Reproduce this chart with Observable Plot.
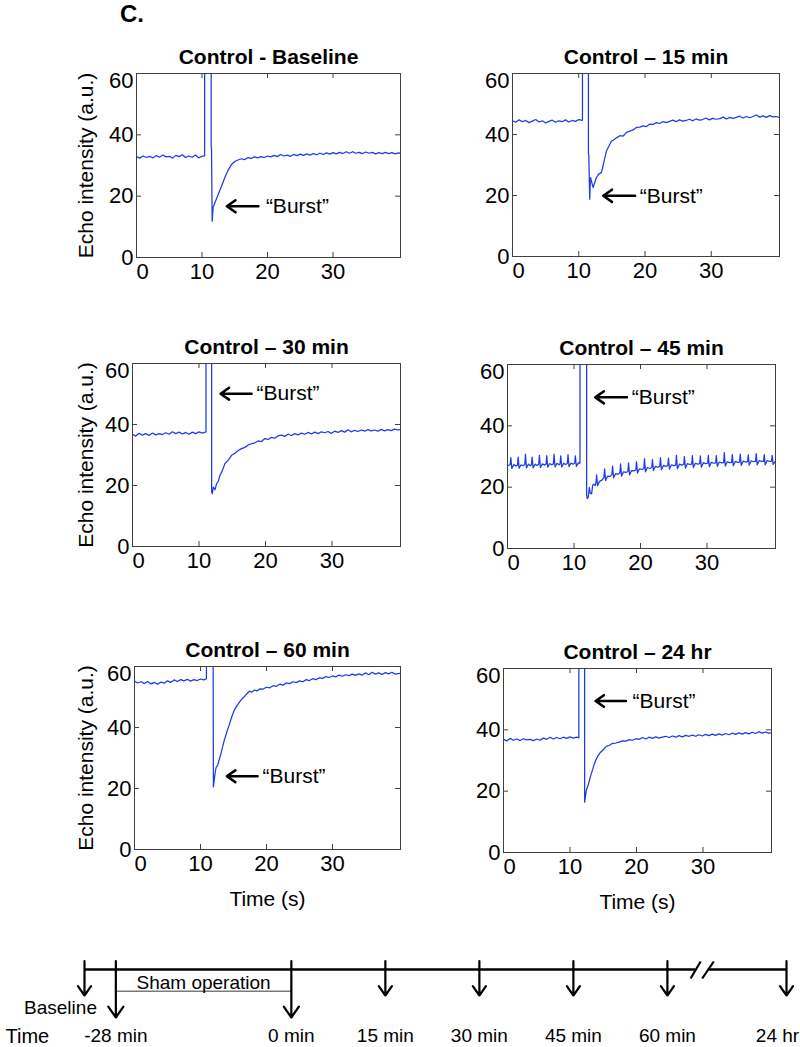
<!DOCTYPE html>
<html><head><meta charset="utf-8">
<script src="https://cdn.jsdelivr.net/npm/d3@7"></script>
<script src="https://cdn.jsdelivr.net/npm/@observablehq/plot@0.6"></script>
<style>
body{margin:0;background:#fff;}
#fig{position:relative;width:800px;height:1047px;overflow:hidden;background:#fff;font-family:'Liberation Sans',Arial,Helvetica,sans-serif;}
#fig svg{position:absolute;max-width:none;}
#panelLetter{position:absolute;left:120px;top:2px;font-size:24px;font-weight:bold;line-height:1;color:#000;}
</style></head><body><div id="fig"><div id="panelLetter">C.</div></div>
<script>
// ---------- data ----------
const titles = ["Control - Baseline", "Control \u2013 15 min", "Control \u2013 30 min", "Control \u2013 45 min", "Control \u2013 60 min", "Control \u2013 24 hr"];
const xTicks = [0, 10, 20, 30];
const yTicks = [0, 20, 40, 60];

const seriesBaseline = [[0,32.9],[0.5,32.4],[1,33.1],[1.5,32.6],[2,33.0],[2.5,32.5],[3,33.2],[3.5,32.7],[4,33.4],[4.5,32.8],[5,33.0],[5.5,32.4],[6,33.3],[6.5,32.9],[7,33.5],[7.5,32.6],[8,33.1],[8.5,32.7],[9,33.4],[9.5,32.5],[10,33.0],[10.4,33.2],
[10.4,80],[11.4,80],[11.4,35.8],[11.45,35.7],[11.55,11.8],[11.7,16.4],[12,18.0],[12.5,20.7],[13,23.4],[13.5,26.2],[14,28.5],[14.5,30.3],[15,31.3],[15.5,31.8],[16,32.2],[16.5,31.9],[17,32.6],[17.5,32.3],[18,32.8],[18.5,32.5],[19,32.9],[19.5,32.6],[20,33.1],[20.5,32.8],[21,33.3],[21.5,32.9],[22,33.6],[22.5,33.1],[23,33.4],[23.5,33.0],[24,33.6],[24.5,33.2],[25,33.7],[25.5,33.3],[26,33.8],[26.5,33.4],[27,33.9],[27.5,33.5],[28,34.0],[28.5,33.6],[29,34.1],[29.5,33.7],[30,34.2],[30.5,33.8],[31,34.3],[31.5,33.9],[32,34.5],[32.5,34.0],[33,34.5],[33.5,34.0],[34,34.3],[34.5,33.9],[35,34.4],[35.5,34.0],[36,34.3],[36.5,33.8],[37,34.2],[37.5,33.9],[38,34.3],[38.5,33.9],[39,34.2],[39.5,33.8],[40,34.1],[40.3,34.0]];

const series15 = [[0,44.5],[0.5,44.0],[1,44.8],[1.5,44.2],[2,44.6],[2.5,43.9],[3,44.4],[3.5,44.9],[4,44.1],[4.5,44.5],[5,43.8],[5.5,44.3],[6,44.7],[6.5,44.0],[7,44.5],[7.5,44.2],[8,44.8],[8.5,44.1],[9,44.6],[9.5,44.3],[10,44.9],[10.56,44.6],
[10.56,80],[11.46,80],[11.46,33.6],[11.52,33.4],[11.65,18.8],[11.77,25.9],[12.17,22.6],[12.67,25.9],[13.0,27.0],[13.43,27.5],[13.8,31.0],[14.18,34.6],[14.6,36.4],[14.94,37.8],[15.3,38.3],[15.69,38.9],[16.2,39.6],[16.7,39.5],[17.2,40.7],[17.7,41.1],[18.2,41.5],[18.7,42.3],[19.2,42.4],[19.7,42.8],[20.2,42.6],[20.7,43.4],[21.2,43.3],[21.7,43.9],[22.2,43.6],[22.7,44.2],[23.2,43.9],[23.7,44.3],[24.2,44.7],[24.7,44.2],[25.2,44.8],[25.7,44.4],[26.2,44.6],[26.7,45.0],[27.2,44.5],[27.7,45.1],[28.2,44.7],[28.7,44.9],[29.2,45.4],[29.7,44.8],[30.2,45.3],[30.7,45.0],[31.3,45.2],[31.8,45.7],[32.3,45.1],[32.8,45.6],[33.3,45.3],[33.8,45.6],[34.3,46.0],[34.8,45.4],[35.3,45.9],[35.8,45.5],[36.3,45.9],[36.8,46.4],[37.3,45.7],[37.8,46.1],[38.3,45.6],[38.8,46.2],[39.3,45.8],[39.8,45.9],[40.3,45.6]];

const series30 = [[0,36.8],[0.5,36.2],[1,37.1],[1.5,36.5],[2,37.0],[2.5,36.4],[3,37.2],[3.5,36.6],[4,37.0],[4.5,36.7],[5,37.3],[5.5,36.8],[6,37.6],[6.5,37.0],[7,37.5],[7.5,36.9],[8,37.4],[8.5,36.8],[9,37.5],[9.5,37.0],[10,37.6],[10.5,37.2],[11.05,37.6],
[11.05,80],[11.9,80],[11.9,18.0],[12.0,17.3],[12.15,19.5],[12.4,18.6],[12.65,20.6],[12.9,21.4],[13.15,23.3],[13.5,24.8],[13.9,27.2],[14.4,28.3],[14.9,29.9],[15.4,30.6],[15.9,31.5],[16.4,32.1],[16.9,32.5],[17.4,33.3],[17.9,33.7],[18.4,34.0],[18.9,34.6],[19.4,34.4],[19.9,35.4],[20.4,35.1],[20.9,35.8],[21.4,35.5],[21.9,36.3],[22.4,36.5],[22.9,36.1],[23.4,36.8],[23.9,36.4],[24.4,37.0],[24.9,36.6],[25.4,37.2],[25.9,36.8],[26.4,37.4],[26.9,36.9],[27.4,37.5],[27.9,37.0],[28.4,37.6],[28.9,37.3],[29.4,37.7],[29.9,37.1],[30.4,37.8],[30.9,37.4],[31.4,38.0],[31.9,37.5],[32.4,38.3],[32.9,37.6],[33.4,38.1],[33.9,37.7],[34.4,38.2],[34.9,37.8],[35.4,38.3],[35.9,37.9],[36.4,38.2],[36.9,37.8],[37.4,38.4],[37.9,37.9],[38.4,38.3],[38.9,38.0],[39.4,38.5],[39.9,38.2],[40.3,38.3]];

const series45 = [[0,27.0],[0.4,27.3],[0.5,29.6],[0.65,26.1],[0.95,27.4],[1.25,26.9],[1.5,27.2],[1.6,29.8],[1.75,26.2],[2.05,27.3],[2.35,27.0],[2.6,27.4],[2.7,30.8],[2.85,26.3],[3.15,27.5],[3.45,27.0],[3.6,27.3],[3.7,29.8],[3.85,26.3],[4.15,27.5],[4.45,27.1],[4.7,27.5],[4.8,30.4],[4.95,26.4],[5.25,27.6],[5.55,27.2],[5.8,27.5],[5.9,30.3],[6.05,26.5],[6.35,27.7],[6.65,27.3],[6.9,27.6],[7.0,30.8],[7.15,26.6],[7.45,27.8],[7.75,27.3],[7.9,27.6],[8.0,30.2],[8.15,26.6],[8.45,27.8],[8.75,27.4],[9.0,27.7],[9.1,30.6],[9.25,26.7],[9.55,27.9],[9.85,27.5],[10.1,27.8],[10.2,30.2],[10.35,26.8],[10.65,27.9],[10.9,27.8],
[10.9,80],[11.9,80],[11.9,17.5],[12.0,16.3],[12.15,16.7],[12.3,19.9],[12.45,18.0],[12.65,17.8],[12.8,20.6],[12.95,21.0],[13.2,20.5],[13.3,21.4],[13.4,24.0],[13.55,20.5],[13.85,21.9],[14.2,22.3],
[14.5,23.2],[14.6,26.0],[14.75,22.2],[15.05,23.6],[15.4,23.5],[15.7,24.1],[15.8,26.9],[15.95,23.0],[16.25,24.4],[16.6,24.2],[16.9,24.6],[17.0,27.6],[17.15,23.6],[17.45,25.0],[17.8,24.8],[18.1,25.1],[18.2,27.9],[18.35,24.0],[18.65,25.4],[19.0,25.3],[19.3,25.6],[19.4,28.3],[19.55,24.6],[19.85,26.0],[20.2,25.8],[20.5,26.0],[20.6,29.3],[20.75,25.0],[21.05,26.4],[21.4,26.1],[21.7,26.4],[21.8,29.0],[21.95,25.4],[22.25,26.8],[22.6,26.5],[22.9,26.8],[23.0,29.6],[23.15,25.7],[23.45,27.1],[23.8,26.8],[24.1,27.0],[24.2,29.5],[24.35,25.9],[24.65,27.3],[25.0,27.0],[25.3,27.2],[25.4,30.4],[25.55,26.0],[25.85,27.5],[26.2,27.2],[26.5,27.4],[26.6,30.0],[26.75,26.2],[27.05,27.7],[27.4,27.4],[27.7,27.5],[27.8,30.3],[27.95,26.4],[28.25,27.8],[28.6,27.5],[28.9,27.7],[29.0,30.2],[29.15,26.5],[29.45,28.0],[29.8,27.7],[30.1,27.8],[30.2,30.4],[30.35,26.7],[30.65,28.1],[31.0,27.8],[31.3,27.9],[31.4,30.3],[31.55,26.8],[31.85,28.2],[32.2,27.9],[32.5,28.0],[32.6,31.3],[32.75,26.9],[33.05,28.3],[33.4,28.0],[33.7,28.1],[33.8,30.6],[33.95,27.0],[34.25,28.4],[34.6,28.1],[34.9,28.2],[35.0,30.8],[35.15,27.1],[35.45,28.5],[35.8,28.2],[36.1,28.3],[36.2,30.5],[36.35,27.2],[36.65,28.6],[37.0,28.3],[37.3,28.4],[37.4,30.9],[37.55,27.3],[37.85,28.7],[38.2,28.4],[38.5,28.4],[38.6,30.6],[38.75,27.3],[39.05,28.7],[39.4,28.4],[39.7,28.5],[39.8,30.4],[39.95,27.4],[40.3,28.6]];

const series60 = [[0,55.2],[0.5,54.6],[1,55.0],[1.5,54.4],[2,55.1],[2.5,54.3],[3,54.8],[3.5,54.2],[4,54.9],[4.5,54.5],[5,55.3],[5.5,54.8],[6,55.6],[6.5,55.1],[7,55.7],[7.5,55.3],[8,55.8],[8.5,55.2],[9,55.7],[9.5,55.4],[10,55.9],[10.5,55.6],[10.9,56.0],
[10.9,80],[11.9,80],[11.95,20.5],[12.2,24.9],[12.35,26.8],[12.6,27.6],[12.85,29.6],[13.1,31.4],[13.35,33.7],[13.6,35.8],[14.0,38.6],[14.4,41.2],[14.75,43.6],[15.1,45.6],[15.5,47.1],[15.9,48.3],[16.25,49.3],[16.6,50.0],[17.0,51.0],[17.4,51.9],[17.8,51.6],[18.2,52.3],[18.6,52.0],[19.0,52.7],[19.5,52.6],[20.0,53.2],[20.5,53.0],[21.0,53.7],[21.5,53.5],[22.0,54.2],[22.5,53.9],[23.0,54.6],[23.5,54.4],[24.0,55.0],[24.5,54.7],[25.0,55.3],[25.5,55.0],[26.0,55.7],[26.5,55.4],[27.0,56.0],[27.5,55.7],[28.0,56.3],[28.5,56.1],[29.0,56.7],[29.5,56.4],[30.0,56.9],[30.5,56.6],[31.0,57.2],[31.5,56.8],[32.0,57.3],[32.5,57.0],[33.0,57.5],[33.5,57.1],[34.0,57.6],[34.5,57.2],[35.0,57.9],[35.5,57.3],[36.0,58.1],[36.5,57.5],[37.0,57.9],[37.5,57.4],[38.0,58.0],[38.5,57.6],[39.0,58.1],[39.5,57.5],[40.3,57.8]];

const series24h = [[0,36.9],[0.5,36.4],[1,37.2],[1.5,36.6],[2,37.0],[2.5,36.5],[3,37.1],[3.5,36.7],[4,36.9],[4.5,36.5],[5,37.0],[5.5,36.6],[6,37.3],[6.5,36.9],[7,37.6],[7.5,37.0],[8,37.5],[8.5,37.1],[9,37.6],[9.5,37.2],[10,37.7],[10.5,37.3],[11.0,37.6],[11.33,37.4],
[11.33,80],[12.2,80],[12.2,16.4],[12.45,20.2],[12.65,21.5],[12.85,22.9],[13.1,25.0],[13.35,26.7],[13.6,28.5],[13.85,30.0],[14.2,31.5],[14.6,32.7],[15.0,33.5],[15.45,34.6],[15.9,34.9],[16.4,35.6],[16.9,35.7],[17.4,36.0],[17.9,36.4],[18.4,36.3],[18.9,36.8],[19.4,36.6],[19.9,37.1],[20.4,36.9],[20.9,37.5],[21.4,37.0],[21.9,37.6],[22.4,37.2],[22.9,37.7],[23.4,37.3],[23.9,37.6],[24.4,37.9],[24.9,37.5],[25.4,38.0],[25.9,37.6],[26.4,38.1],[26.9,37.7],[27.4,38.2],[27.9,37.9],[28.4,38.3],[28.9,37.9],[29.4,38.4],[29.9,38.0],[30.4,38.5],[30.9,38.1],[31.4,38.6],[31.9,38.2],[32.4,38.7],[32.9,38.3],[33.4,38.8],[33.9,38.4],[34.4,38.9],[34.9,38.5],[35.4,39.0],[35.9,38.6],[36.4,39.1],[36.9,38.7],[37.4,39.2],[37.9,38.8],[38.4,39.4],[38.9,38.9],[39.4,39.3],[39.9,38.9],[40.3,39.0]];

const allSeries = [seriesBaseline, series15, series30, series45, series60, series24h];

// "Burst" annotation (data units)
const burstTail = [18.6, 18.5, 17.9, 17.95, 18.65, 18.4];
const burstHead = [13.8, 13.7, 13.25, 13.2, 14.0, 13.85];
const burstLevel = [16.7, 19.9, 50.1, 49.3, 24.0, 49.4];
const burstTextX = [19.75, 19.2, 18.65, 18.7, 19.4, 19.4];

// timeline (schematic minutes; 24 hr drawn after the axis break)
const events = ["Baseline", "-28 min", "0 min", "15 min", "30 min", "45 min", "60 min", "24 hr"];
const eventMinute = [-33, -28, 0, 15, 30, 45, 60, 79];
const arrowLong = [false, true, true, false, false, false, false, false];

// ---------- layout ----------
const frames = [
  {left:136, top:73, right:400, bottom:257},
  {left:512, top:73, right:779, bottom:256},
  {left:132, top:363, right:400, bottom:546},
  {left:507, top:364, right:775, bottom:548},
  {left:134, top:666, right:400, bottom:849},
  {left:503, top:668, right:771, bottom:852}
];
const FONT = "'Liberation Sans', Arial, Helvetica, sans-serif";
const LINE = "#1f3be6";
const FRAME = "#404040";
const fig = document.getElementById("fig");

frames.forEach((F, i) => {
  const ml = 70, mr = 14, mt = 45, mb = 70;
  const w = F.right - F.left, h = F.bottom - F.top;
  const leftCol = i % 2 === 0;
  const bottomRow = i >= 4;
  const marks = [
    Plot.line(allSeries[i], {x: d => d[0], y: d => d[1], stroke: LINE, strokeWidth: 1.25, clip: true}),
    Plot.frame({stroke: FRAME, strokeWidth: 1}),
    Plot.tickX(xTicks, {x: d => d, insetTop: h - 5, stroke: FRAME}),
    Plot.tickX(xTicks, {x: d => d, insetBottom: h - 5, stroke: FRAME}),
    Plot.tickY(yTicks, {y: d => d, insetRight: w - 5, stroke: FRAME}),
    Plot.tickY(yTicks, {y: d => d, insetLeft: w - 5, stroke: FRAME}),
    Plot.text(xTicks.filter(d => d > 0), {x: d => d, text: d => String(d), frameAnchor: "bottom", lineAnchor: "top", dy: 6, fontSize: 22}),
    Plot.text(xTicks.filter(d => d === 0), {x: d => d, text: d => String(d), frameAnchor: "bottom", lineAnchor: "top", dy: 6, dx: 6, fontSize: 22}),
    Plot.text(yTicks.filter(d => d < 60), {y: d => d, text: d => String(d), frameAnchor: "left", textAnchor: "end", dx: -3, fontSize: 22}),
    Plot.text(yTicks.filter(d => d === 60), {y: d => d, text: d => String(d), frameAnchor: "left", textAnchor: "end", dx: -3, dy: 7, fontSize: 22}),
    Plot.text([titles[i]], {text: d => d, frameAnchor: "top", textAnchor: "middle", lineAnchor: "bottom", dy: -10, fontSize: 21, fontWeight: "bold"}),
    Plot.arrow([i], {x1: d => burstTail[d], x2: d => burstHead[d], y1: d => burstLevel[d], y2: d => burstLevel[d], stroke: "#000", strokeWidth: 2.6, headLength: 10, headAngle: 70}),
    Plot.text([i], {x: d => burstTextX[d], y: d => burstLevel[d], text: () => "\u201CBurst\u201D", textAnchor: "start", fontSize: 21})
  ];
  if (leftCol) marks.push(Plot.text(["Echo intensity (a.u.)"], {text: d => d, frameAnchor: "left", textAnchor: "middle", lineAnchor: "middle", rotate: -90, dx: 86 - F.left, fontSize: 21}));
  if (bottomRow) marks.push(Plot.text(["Time (s)"], {text: d => d, frameAnchor: "bottom", textAnchor: "middle", lineAnchor: "top", dy: 42, fontSize: 21}));
  const svg = Plot.plot({
    width: w + ml + mr, height: h + mt + mb,
    marginLeft: ml, marginRight: mr, marginTop: mt, marginBottom: mb,
    x: {domain: [0, 40.3], axis: null},
    y: {domain: [0, 60], axis: null},
    style: {fontFamily: FONT, fontSize: "21px", background: "transparent", overflow: "visible", color: "#000"},
    marks
  });
  svg.style.left = (F.left - ml) + "px";
  svg.style.top = (F.top - mt) + "px";
  fig.appendChild(svg);
});

// ---------- timeline ----------
const TLTOP = 940;
const lineY = 29, arrowTop = 20.7, shortTip = 55, longTip = 77;
const tl = Plot.plot({
  width: 800, height: 107, margin: 0,
  x: {domain: [-33, 79], range: [84, 786], axis: null},
  y: {domain: [0, 107], range: [0, 107], axis: null},
  style: {fontFamily: FONT, fontSize: "19px", background: "transparent", overflow: "visible", color: "#000"},
  marks: [
    Plot.ruleY([lineY], {x1: -33, x2: 64.5, stroke: "#000", strokeWidth: 2.6}),
    Plot.ruleY([lineY], {x1: 66.5, x2: 79, stroke: "#000", strokeWidth: 2.6}),
    Plot.link([[63.7, 65.3], [65.55, 67.4]], {x1: d => d[0], x2: d => d[1], y1: 38, y2: 21, stroke: "#000", strokeWidth: 2.2}),
    Plot.ruleY([50.7], {x1: -28, x2: 0, stroke: "#7a7a7a", strokeWidth: 1.6}),
    Plot.text(["Sham operation"], {text: d => d, x: -14, y: 42, fontSize: 19}),
    Plot.arrow(eventMinute, {x1: d => d, x2: d => d, y1: arrowTop, y2: (d, i) => arrowLong[i] ? longTip : shortTip, stroke: "#000", strokeWidth: 2.2, headLength: 9, headAngle: 70}),
    Plot.text([events[0]], {text: d => d, x: eventMinute[0], y: 67, dx: -24, fontSize: 19}),
    Plot.text(events.slice(1, 7), {text: d => d, x: (d, i) => eventMinute[i + 1], y: 95, fontSize: 19}),
    Plot.text([events[7]], {text: d => d, x: eventMinute[7], y: 95, dx: -9, fontSize: 19}),
    Plot.text(["Time"], {text: d => d, frameAnchor: "left", y: 96, dx: 5, textAnchor: "start", fontSize: 20})
  ]
});
tl.style.left = "0px";
tl.style.top = TLTOP + "px";
fig.appendChild(tl);
</script></body></html>
